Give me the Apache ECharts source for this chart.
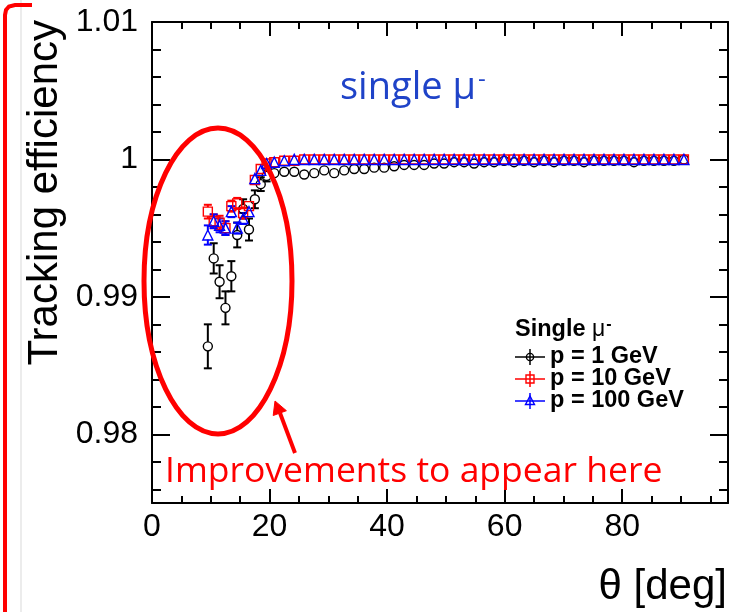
<!DOCTYPE html>
<html><head><meta charset="utf-8">
<script src="https://cdn.jsdelivr.net/npm/echarts@6/dist/echarts.min.js"></script>
<style>html,body{margin:0;padding:0;background:#fff}#c{width:730px;height:612px}</style>
</head><body><div id="c"></div>
<script>
const theta = [9.5,10.5,11.5,12.5,13.5,14.5,15.5,16.5,17.5,18.5,19.5,
  20.8,22.5,24.2,25.9,27.6,29.3,31.0,32.7,34.4,36.1,
  37.8,39.5,41.2,42.9,44.6,46.3,48.0,49.7,51.4,53.1,
  54.8,56.5,58.2,59.9,61.6,63.3,65.0,66.7,68.4,70.1,
  71.8,73.5,75.2,76.9,78.6,80.3,82.0,83.7,85.4,87.1,
  88.8,90.5];
const eff1 = [0.9864,0.9928,0.9911,0.9892,0.9915,0.9945,0.9964,0.9949,0.9971,0.9982,0.9988,
  0.9990,0.9991,0.9991,0.9989,0.9990,0.9992,0.9990,0.9992,0.9993,0.9993,
  0.9994,0.9994,0.9995,0.9996,0.9996,0.9996,0.9997,0.9997,0.9998,0.9998,
  0.9997,0.9998,0.9998,0.9999,0.9998,0.9999,0.9998,0.9999,0.9998,0.9999,
  0.9999,0.9998,0.9999,0.9999,0.9999,0.9999,0.9998,0.9999,0.9999,0.9999,
  0.9999,1.0000];
const err1 = [0.0016,0.0011,0.0012,0.0012,0.0011,0.0009,0.0007,0.0008,0.00065,0.0005,0.0004,
  0.0003,0.0003,0.0003,0.0003,0.0003,0.0003,0.0003,0.0003,0.0003,0.0003,
  0.0002,0.0002,0.0002,0.0002,0.0002,0.0002,0.0002,0.0002,0.0002,0.0002,
  0.00015,0.00015,0.00015,0.00015,0.00015,0.00015,0.00015,0.00015,0.00015,0.00015,
  0.0001,0.0001,0.0001,0.0001,0.0001,0.0001,0.0001,0.0001,0.0001,0.0001,
  0.0001,0.0001];
const eff10 = [0.9962,0.9955,0.9954,0.9950,0.9966,0.9968,0.9961,0.9966,0.9985,0.9993,0.9997,
  0.9998,0.9999,0.9999,1.0000,1.0000,1.0000,1.0000,1.0000,1.0000,1.0000,
  1.0000,1.0000,1.0000,1.0000,1.0000,1.0000,1.0000,1.0000,1.0000,1.0000,
  1.0000,1.0000,1.0000,1.0000,1.0000,1.0000,1.0000,1.0000,1.0000,1.0000,
  1.0000,1.0000,1.0000,1.0000,1.0000,1.0000,1.0000,1.0000,1.0000,1.0000,
  1.0000,1.0000];
const err10 = [0.0005,0.0005,0.0005,0.0005,0.0004,0.0004,0.0004,0.0003,0.0003,0.0002,0.0001,
  0.0001,0.00005,0.00005,0.00005,0.00005,0.00005,0.00005,0.00005,0.00005,0.00005,
  0.00005,0.00005,0.00005,0.00005,0.00005,0.00005,0.00005,0.00005,0.00005,0.00005,
  0.00005,0.00005,0.00005,0.00005,0.00005,0.00005,0.00005,0.00005,0.00005,0.00005,
  0.00005,0.00005,0.00005,0.00005,0.00005,0.00005,0.00005,0.00005,0.00005,0.00005,
  0.00005,0.00005];
const eff100 = [0.9945,0.9955,0.9952,0.9950,0.9962,0.9950,0.9957,0.9962,0.9986,0.9992,0.9997,
  0.9998,0.9999,1.0000,1.0000,1.0000,1.0000,1.0000,1.0000,1.0000,1.0000,
  1.0000,1.0000,1.0000,1.0000,1.0000,1.0000,1.0000,1.0000,1.0000,1.0000,
  1.0000,1.0000,1.0000,1.0000,1.0000,1.0000,1.0000,1.0000,1.0000,1.0000,
  1.0000,1.0000,1.0000,1.0000,1.0000,1.0000,1.0000,1.0000,1.0000,1.0000,
  1.0000,1.0000];
const err100 = [0.0007,0.0005,0.0005,0.0005,0.0004,0.0004,0.0004,0.0003,0.0003,0.0002,0.0001,
  0.0001,0.00005,0.00005,0.00005,0.00005,0.00005,0.00005,0.00005,0.00005,0.00005,
  0.00005,0.00005,0.00005,0.00005,0.00005,0.00005,0.00005,0.00005,0.00005,0.00005,
  0.00005,0.00005,0.00005,0.00005,0.00005,0.00005,0.00005,0.00005,0.00005,0.00005,
  0.00005,0.00005,0.00005,0.00005,0.00005,0.00005,0.00005,0.00005,0.00005,0.00005,
  0.00005,0.00005];
const xMajor = [0,20,40,60,80];
const xMinor = [5,10,15,25,30,35,45,50,55,65,70,75,85,90,95];
const yMajor = [0.98,0.99,1,1.01];
const yMinor = [0.976,0.978,0.982,0.984,0.986,0.988,0.992,0.994,0.996,0.998,1.002,1.004,1.006,1.008];
const seriesNames = ['p = 1 GeV','p = 10 GeV','p = 100 GeV'];
const colors = ['#000000','#ff0000','#0000ff'];

const FONT = 'Liberation Sans, Arial, Helvetica, sans-serif';
const chart = echarts.init(document.getElementById('c'), null, {renderer:'canvas'});

function xAx(pos, vals, len, line, labels){
  return {type:'value', min:0, max:98, position:pos,
    axisLine:{show:line, onZero:false, lineStyle:{color:'#000', width:2}},
    axisTick:{show:true, inside:true, length:len, customValues:vals, lineStyle:{color:'#000', width:2}},
    axisLabel:labels ? {show:true, customValues:vals, fontSize:32, color:'#000', fontFamily:FONT, margin:8} : {show:false},
    splitLine:{show:false}};
}
function yAx(pos, vals, len, line, labels){
  return {type:'value', min:0.975, max:1.01, position:pos,
    axisLine:{show:line, onZero:false, lineStyle:{color:'#000', width:2}},
    axisTick:{show:true, inside:true, length:len, customValues:vals, lineStyle:{color:'#000', width:2}},
    axisLabel:labels ? {show:true, customValues:vals, fontSize:32, color:'#000', fontFamily:FONT, margin:14,
      formatter:function(v){return String(+(+v).toFixed(3));}} : {show:false},
    splitLine:{show:false}};
}

function errSeries(eff, err, color, gap){
  return {
    type:'custom', xAxisIndex:0, yAxisIndex:0, silent:true, z:2,
    data: theta.map(function(t,i){return [t, eff[i]-err[i], eff[i]+err[i], eff[i]];}),
    encode:{x:0, y:[1,2]},
    renderItem:function(params, api){
      const c = api.coord([api.value(0), api.value(3)]);
      const lo = api.coord([api.value(0), api.value(1)]);
      const hi = api.coord([api.value(0), api.value(2)]);
      const st = {stroke:color, lineWidth:2};
      const ch = [];
      const cap = 4;
      if (c[1]-gap > hi[1]) {
        ch.push({type:'line', shape:{x1:c[0], y1:c[1]-gap, x2:c[0], y2:hi[1]}, style:st});
        ch.push({type:'line', shape:{x1:c[0]-cap, y1:hi[1], x2:c[0]+cap, y2:hi[1]}, style:st});
      }
      if (lo[1] > c[1]+gap) {
        ch.push({type:'line', shape:{x1:c[0], y1:c[1]+gap, x2:c[0], y2:lo[1]}, style:st});
        ch.push({type:'line', shape:{x1:c[0]-cap, y1:lo[1], x2:c[0]+cap, y2:lo[1]}, style:st});
      }
      return {type:'group', children:ch};
    }
  };
}
function ptSeries(name, eff, color, symbol, size){
  return {type:'scatter', name:name, xAxisIndex:0, yAxisIndex:0, symbol:symbol, symbolSize:size, z:3,
    data: theta.map(function(t,i){return [t, eff[i]];}),
    itemStyle:{color:'rgba(0,0,0,0)', borderColor:color, borderWidth:1.4, opacity:1},
    emphasis:{disabled:true}};
}

const RED = '#ff0000';
const BLUE = '#1f43c8';
const lgX = 530, lgRows = [357, 379, 401];
function legendMarker(i){
  const y = lgRows[i], c = colors[i];
  const els = [
    {type:'line', shape:{x1:515, y1:y, x2:545, y2:y}, style:{stroke:c, lineWidth:1.5}},
    {type:'line', shape:{x1:lgX, y1:y-8, x2:lgX, y2:y+8}, style:{stroke:c, lineWidth:1.5}}
  ];
  if (i===0) els.push({type:'circle', shape:{cx:lgX, cy:y, r:3.6}, style:{stroke:c, fill:null, lineWidth:1.4}});
  if (i===1) els.push({type:'rect', shape:{x:lgX-4, y:y-4, width:8, height:8}, style:{stroke:c, fill:null, lineWidth:1.4}});
  if (i===2) els.push({type:'polygon', shape:{points:[[lgX, y-5],[lgX+4.5, y+3.5],[lgX-4.5, y+3.5]]}, style:{stroke:c, fill:null, lineWidth:1.4}});
  els.push({type:'text', x:550, y:y, style:{text:seriesNames[i], font:'bold 23.5px '+FONT, fill:'#000', verticalAlign:'middle'}});
  return els;
}

const graphics = [
  {type:'line', shape:{x1:21, y1:0, x2:21, y2:612}, style:{stroke:'#d9d9d9', lineWidth:1}, z:1},
  {type:'polyline', shape:{points:[[5,612],[5,15],[6,10],[9,6.5],[15,5],[32,5]]}, style:{stroke:RED, fill:null, lineWidth:4}, z:1},
  {type:'text', x:45, y:20, rotation:Math.PI/2, style:{text:'Tracking efficiency', font:'42px '+FONT, fill:'#000', align:'right', verticalAlign:'middle'}},
  {type:'text', x:727, y:587, style:{text:'θ [deg]', font:'42px '+FONT, fill:'#000', align:'right', verticalAlign:'middle'}},
  {type:'text', x:340, y:88, style:{text:'{a|single μ}{s|-}', fill:BLUE, verticalAlign:'middle',
    rich:{a:{fontSize:38, fontFamily:'Open Sans', fill:BLUE}, s:{fontSize:24, fontFamily:'Open Sans', fill:BLUE, verticalAlign:'top', padding:[0,0,16,2]}}}},
  {type:'text', x:515, y:330, style:{text:'{a|Single }{m|μ}{s|-}', verticalAlign:'middle',
    rich:{a:{font:'bold 23.5px '+FONT, fill:'#000'}, m:{font:'23px '+FONT, fill:'#000'}, s:{font:'bold 16px '+FONT, fill:'#000', verticalAlign:'top', padding:[0,0,10,1]}}}},
  {type:'ellipse', shape:{cx:218, cy:281, rx:74, ry:153}, style:{stroke:RED, fill:null, lineWidth:5}, z:10},
  {type:'line', shape:{x1:295, y1:453, x2:280, y2:413}, style:{stroke:RED, lineWidth:4}, z:10},
  {type:'polygon', shape:{points:[[275,401],[286.4,410.7],[273.2,415.5]]}, style:{fill:RED, stroke:RED, lineWidth:1}, z:10},
  {type:'text', x:165, y:472, style:{text:'Improvements to appear here', font:'35.5px Open Sans', fill:RED, verticalAlign:'middle'}, z:10}
].concat(legendMarker(0), legendMarker(1), legendMarker(2));

chart.setOption({
  animation:false,
  backgroundColor:'#ffffff',
  grid:{left:152, right:2, top:22, bottom:109, containLabel:false},
  xAxis:[xAx('bottom', xMajor, 14, true, true), xAx('bottom', xMinor, 7, false, false),
         xAx('top', xMajor, 14, true, false), xAx('top', xMinor, 7, false, false)],
  yAxis:[yAx('left', yMajor, 18, true, true), yAx('left', yMinor, 9, false, false),
         yAx('right', yMajor, 18, true, false), yAx('right', yMinor, 9, false, false)],
  series:[
    errSeries(eff1, err1, '#000', 4.5),
    ptSeries(seriesNames[0], eff1, '#000', 'circle', 9),
    errSeries(eff10, err10, RED, 4.5),
    ptSeries(seriesNames[1], eff10, RED, 'rect', 9),
    errSeries(eff100, err100, '#0000ff', 4.5),
    ptSeries(seriesNames[2], eff100, '#0000ff', 'triangle', 10)
  ],
  graphic:{elements:graphics}
});
</script></body></html>
